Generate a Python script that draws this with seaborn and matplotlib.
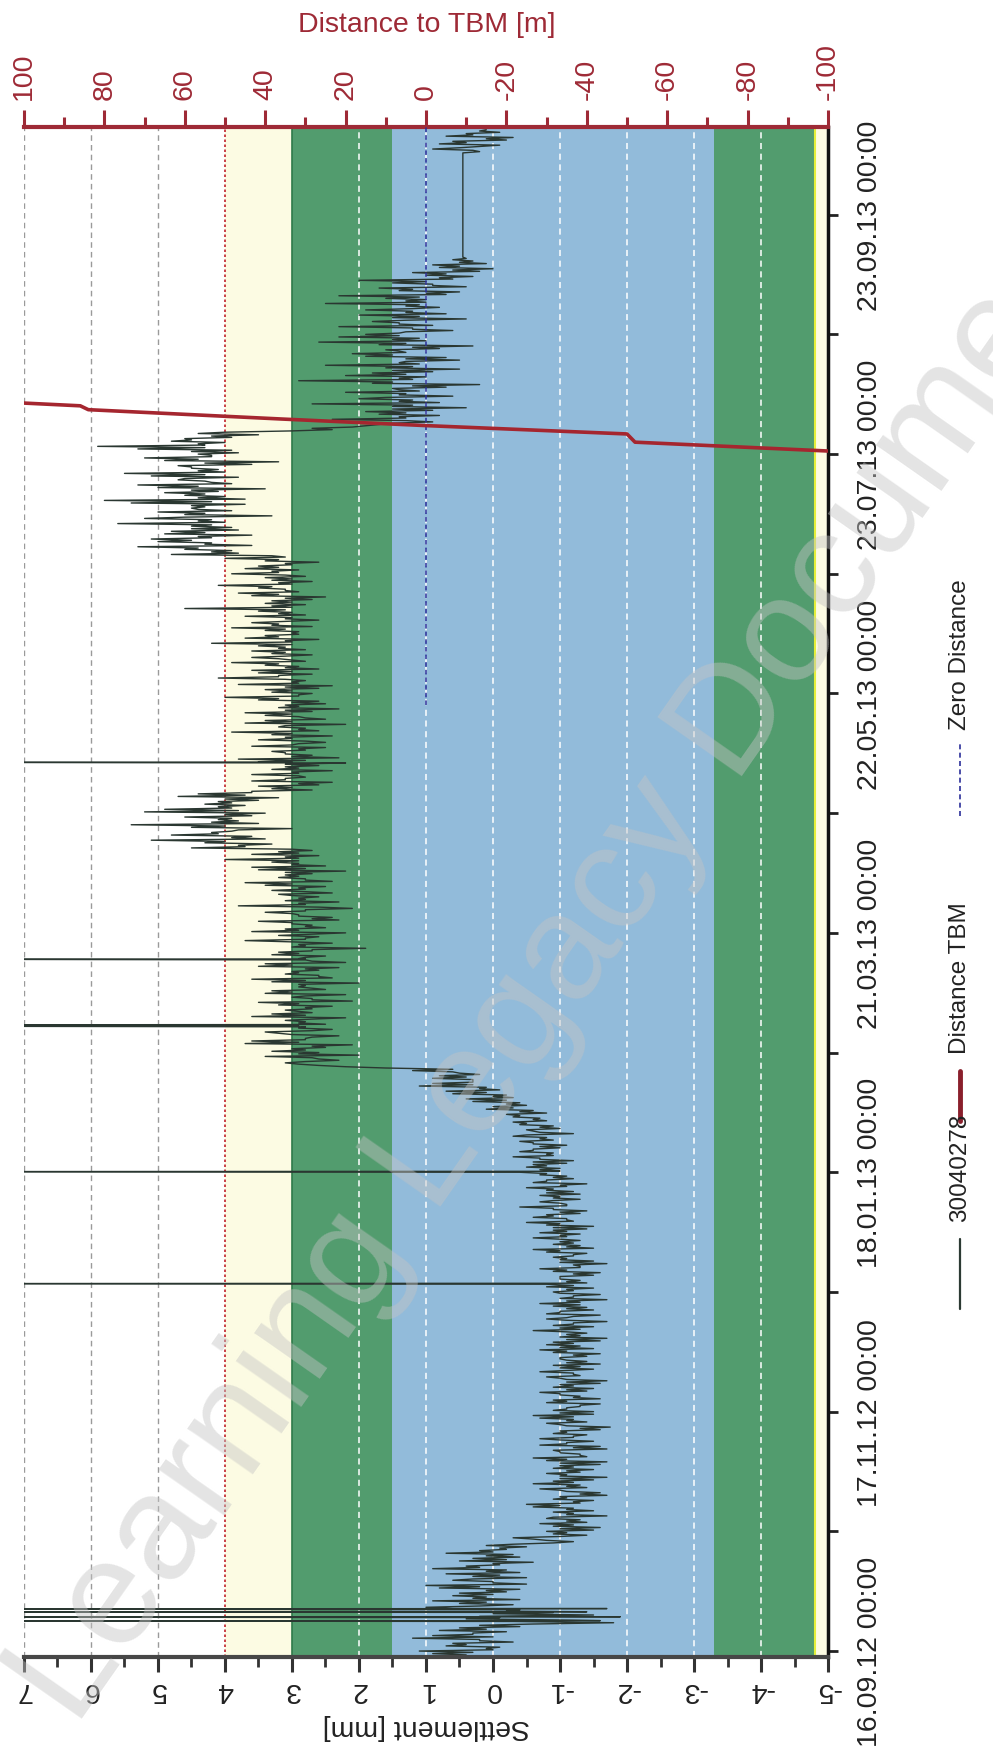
import numpy as np
import pandas as pd
import matplotlib
matplotlib.use("Agg")
import matplotlib.pyplot as plt
from matplotlib.lines import Line2D
import seaborn as sns

sns.set_theme(style="white")
plt.rcParams["font.family"] = ["Liberation Sans", "DejaVu Sans"]

# ---------------- data: sensor 30040278, readings at 00:00, 08:00 and 16:00 ----------------
month_starts = ["2012-09-15", "2012-10-01", "2012-11-01", "2012-12-01", "2013-01-01",
                "2013-02-01", "2013-03-01", "2013-04-01", "2013-05-01", "2013-06-01",
                "2013-07-01", "2013-08-01", "2013-09-01", "2013-10-09"]
# 00:00 readings [mm]
am_2012_09 = [0.4, 1.1, -0.1, 0.6, 0.2, 0.9, -0.2, 0.5, -0.6, -1.2, 0.2, -0.9, 0.6, -0.3, 0.9, 0.1]
am_2012_10 = [0.5, -0.4, 1.0, 0.0, -0.5, 0.7, -0.2, 0.4, -0.6, 0.3, -0.3, 0.2, -0.5, -0.9, -0.6, -1.4,
              -0.8, -1.6, -0.7, -1.3, -1.7, -0.9, -1.2, -0.5, -1.5, -1.0, -1.6, -0.7, -1.3, -0.9, -1.7]
am_2012_11 = [-0.8, -1.5, -1.0, -1.7, -0.6, -1.3, -0.9, -1.6, -1.1, -0.7, -1.4, -1.0, -1.75, -0.8, -1.2,
              -0.6, -1.5, -1.1, -1.6, -0.9, -1.3, -0.7, -1.5, -1.0, -1.7, -0.8, -1.2, -1.5, -0.9, -1.4]
am_2012_12 = [-1.0, -1.6, -0.7, -1.3, -0.9, -1.7, -1.1, -0.6, -1.5, -1.2, -0.8, -1.6, -1.0, -1.4, -0.7,
              -1.7, -1.2, -0.9, -1.5, -0.8, -1.3, -1.0, -1.6, -0.7, -1.2, -1.5, -0.9, -1.4, -0.6, -1.3, -1.0]
am_2013_01 = [-0.6, -1.3, -0.9, -1.5, -0.5, -1.1, -0.8, -1.4, -0.4, -1.0, -1.3, -0.7, -1.2, -0.5, -1.4,
              -0.8, -1.1, -0.4, -1.0, -0.6, -1.2, -0.3, -0.9, -0.6, -1.1, -0.4, -0.8, -1.2, -0.5, -0.9, -0.3]
am_2013_02 = [-0.7, -0.2, -0.6, 0.0, -0.4, 0.4, -0.2, 0.7, 0.1, 0.9, 0.3, 0.8, 0.6, 1.6, 2.9, 2.3,
              3.4, 2.6, 3.0, 2.1, 3.6, 2.7, 3.2, 2.4, 3.8, 2.8, 2.2, 3.3]
am_2013_03 = [3.1, 2.4, 3.5, 2.7, 2.2, 3.3, 2.9, 2.0, 3.6, 2.6, 3.0, 2.3, 3.4, 2.8, 2.5, 3.2,
              1.9, 2.9, 3.7, 2.6, 2.2, 3.1, 2.7, 3.5, 2.4, 3.0, 2.8, 3.8, 2.3, 2.9, 3.2]
am_2013_04 = [3.3, 2.5, 3.7, 2.8, 3.1, 2.2, 3.6, 2.9, 4.0, 2.6, 3.2, 4.5, 3.3, 5.1, 3.6,
              4.2, 3.0, 5.4, 3.8, 4.6, 3.4, 4.9, 3.7, 4.1, 3.2, 4.4, 2.7, 3.5, 2.4, 3.1]
am_2013_05 = [3.6, 2.4, 3.1, 2.2, 3.8, 2.7, 3.3, 2.5, 2.9, 3.5, 2.4, 3.9, 2.8, 2.2, 3.4, 2.9,
              3.7, 2.3, 3.1, 2.6, 4.0, 2.7, 3.4, 2.4, 3.0, 4.1, 2.7, 3.6, 2.9, 3.9, 3.2]
am_2013_06 = [2.7, 3.6, 3.1, 4.2, 2.6, 3.4, 2.9, 3.9, 3.2, 2.6, 3.7, 3.0, 4.6, 2.8, 3.3,
              2.5, 3.8, 3.1, 4.1, 2.7, 3.4, 3.9, 2.9, 3.5, 2.6, 4.0, 4.8, 3.9, 5.3, 4.2]
am_2013_07 = [5.1, 3.6, 4.8, 3.9, 5.6, 4.2, 3.3, 5.0, 4.5, 3.7, 5.8, 4.0, 4.9, 3.4, 5.3, 4.3,
              3.8, 5.5, 4.1, 4.7, 3.2, 5.2, 4.4, 3.9, 5.9, 4.0, 4.6, 3.5, 3.0, 2.1, 1.5]
am_2013_08 = [2.4, 0.8, 1.9, 0.4, 2.7, 1.2, 0.6, 2.2, 1.5, 0.2, 2.9, 1.0, 1.8, 0.5, 2.5, 1.3,
              0.7, 2.1, 1.6, 0.3, 2.6, 1.1, 1.9, 0.6, 2.3, 1.4, 0.4, 2.0, 1.2, 0.8, 2.5]
am_2013_09 = [1.0, 2.3, 0.5, 1.7, 0.9, 2.0, 0.3, 1.2, 0.0, 0.9, 0.3, 0.45]
am_2013_10 = [0.45, 0.9, -0.1, 0.6, -0.3, 0.4, 0.1]
# 08:00 readings [mm]
pm_2012_09 = [0.9, 0.0, 0.7, -0.3, 1.2, 0.3, 0.8, -0.4, -1.8, 0.4, -1.5, -0.2, 1.0, 0.5, -0.4, 0.6]
pm_2012_10 = [-0.2, 0.8, -0.5, 0.6, 0.3, -0.4, 0.9, -0.1, 0.5, -0.4, 0.7, -0.2, 0.1, -1.2, -0.3, -0.9,
              -1.5, -0.9, -1.4, -0.8, -1.1, -1.5, -0.6, -1.3, -0.9, -1.7, -1.1, -1.4, -0.6, -1.5, -1.0]
pm_2012_11 = [-1.3, -0.9, -1.6, -0.8, -1.4, -1.0, -1.7, -0.7, -1.5, -1.2, -0.9, -1.6, -1.1, -1.4, -0.7,
              -1.5, -0.9, -1.3, -0.8, -1.6, -1.0, -1.4, -0.9, -1.6, -1.1, -1.3, -0.7, -1.0, -1.6, -1.1]
pm_2012_12 = [-1.4, -0.9, -1.5, -0.8, -1.6, -1.0, -1.4, -1.3, -0.9, -1.7, -1.1, -0.8, -1.5, -0.9, -1.3,
              -1.0, -1.6, -1.2, -0.8, -1.4, -1.0, -1.5, -0.9, -1.3, -1.7, -1.0, -1.2, -0.8, -1.5, -0.9, -1.3]
pm_2013_01 = [-1.1, -0.7, -1.4, -0.8, -1.2, -0.6, -1.3, -0.9, -1.1, -0.7, -0.9, -1.3, -0.8, -1.1, -0.6,
              -1.2, -0.7, -1.0, -0.5, -1.1, -0.7, -0.9, -0.4, -1.0, -0.6, -0.9, -0.3, -0.7, -1.0, -0.4, -0.8]
pm_2013_02 = [-0.3, -0.8, 0.1, -0.5, 0.3, -0.3, 0.6, -0.1, 1.1, 0.3, 0.9, 0.2, 1.2, 2.2, 3.1, 2.6,
              2.0, 3.3, 2.5, 3.7, 2.8, 2.3, 3.4, 2.9, 2.5, 3.1, 3.6, 2.7]
pm_2013_03 = [2.7, 3.2, 2.1, 3.0, 3.4, 2.5, 2.8, 3.3, 2.4, 3.1, 2.6, 3.5, 2.2, 2.9, 3.3, 2.7,
              3.0, 2.4, 2.8, 3.2, 3.6, 2.5, 3.0, 2.3, 2.9, 3.4, 2.1, 2.8, 3.1, 2.6, 2.4]
pm_2013_04 = [2.8, 3.4, 2.4, 3.2, 2.7, 3.5, 2.5, 3.3, 2.9, 3.6, 2.7, 3.7, 4.3, 3.4, 4.8,
              3.9, 4.5, 3.5, 4.1, 3.6, 5.2, 3.9, 4.3, 3.5, 4.7, 3.6, 3.3, 2.6, 3.6, 2.8]
pm_2013_05 = [2.9, 3.3, 2.6, 3.5, 2.3, 3.1, 2.8, 3.6, 2.5, 3.0, 3.3, 2.6, 3.2, 3.7, 2.5, 3.4,
              2.7, 3.2, 2.5, 3.5, 2.9, 3.3, 2.6, 3.8, 2.8, 3.2, 3.5, 2.6, 3.4, 2.8, 3.6]
pm_2013_06 = [3.3, 2.8, 3.5, 3.0, 3.7, 2.9, 3.4, 2.7, 3.6, 3.1, 2.8, 3.5, 3.0, 3.4, 2.7,
              3.6, 2.9, 3.5, 3.0, 3.3, 2.8, 3.2, 3.7, 3.0, 3.4, 3.1, 3.8, 4.6, 3.6, 5.0]
pm_2013_07 = [4.2, 4.9, 3.8, 4.5, 4.0, 5.2, 4.6, 3.9, 4.3, 5.4, 3.7, 4.6, 4.1, 5.0, 3.9, 4.7,
              5.1, 4.0, 4.5, 3.6, 4.9, 4.2, 3.8, 5.3, 4.3, 4.8, 3.9, 4.4, 2.4, 1.9, 0.9]
pm_2013_08 = [1.3, 1.7, 0.9, 1.5, 0.8, 2.0, 1.4, 1.1, 0.7, 1.8, 1.2, 2.2, 0.9, 1.6, 1.1, 0.5,
              1.9, 1.3, 0.8, 1.7, 1.0, 2.3, 1.4, 1.2, 0.9, 1.8, 1.5, 0.7, 1.9, 1.3, 1.0]
pm_2013_09 = [1.6, 0.7, 1.4, 0.4, 1.5, 0.6, 1.0, 0.2, 0.8, 0.1, 0.6]
pm_2013_10 = [0.2, 0.5, 0.8, -0.2, 0.7, -0.1]
# 16:00 readings [mm]
ev_2012_09 = [0.3, 0.1, 0.4, 0.2, 0.0, 0.3, 0.1, 0.2, -0.3, -0.1, 0.0, -0.4, 0.2, 0.1, 0.3, 0.0]
ev_2012_10 = [0.1, 0.2, 0.0, 0.3, -0.1, 0.1, 0.2, 0.0, -0.2, 0.1, 0.0, -0.1, -0.3, -0.8, -1.0, -1.1,
              -1.0, -1.2, -1.1, -0.9, -1.2, -1.1, -1.0, -1.2, -1.1, -1.3, -1.0, -1.1, -1.2, -1.0, -1.1]
ev_2012_11 = [-1.1, -1.2, -1.0, -1.1, -1.3, -1.0, -1.2, -1.1, -1.0, -1.2, -1.1, -1.3, -1.0, -1.1, -1.2,
              -1.0, -1.1, -1.3, -1.1, -1.2, -1.0, -1.1, -1.2, -1.1, -1.0, -1.2, -1.1, -1.3, -1.1, -1.0]
ev_2012_12 = [-1.2, -1.1, -1.0, -1.2, -1.1, -1.3, -1.1, -1.0, -1.2, -1.1, -1.2, -1.0, -1.1, -1.3, -1.1,
              -1.2, -1.0, -1.1, -1.2, -1.1, -1.0, -1.2, -1.1, -1.3, -1.0, -1.1, -1.2, -1.0, -1.1, -1.2, -1.0]
ev_2013_01 = [-1.0, -1.1, -0.9, -1.0, -1.1, -0.9, -1.0, -0.9, -1.1, -0.9, -1.0, -0.8, -0.9, -1.0, -0.8,
              -0.9, -0.8, -0.7, -0.8, -0.6, -0.7, -0.8, -0.6, -0.7, -0.6, -0.7, -0.5, -0.6, -0.7, -0.5, -0.6]
ev_2013_02 = [-0.4, -0.4, -0.3, -0.2, -0.2, 0.0, 0.1, 0.2, 0.3, 0.3, 0.4, 0.5, 0.6, 2.6, 2.8, 2.7,
              2.9, 2.8, 2.7, 2.9, 2.8, 3.0, 2.7, 2.8, 2.9, 2.7, 2.8, 2.9]
ev_2013_03 = [2.8, 2.9, 2.7, 2.8, 3.0, 2.7, 2.9, 2.8, 2.6, 2.9, 2.8, 3.0, 2.7, 2.8, 2.9, 2.7,
              2.8, 3.0, 2.8, 2.7, 2.9, 2.8, 3.0, 2.7, 2.9, 2.8, 2.6, 2.9, 2.8, 3.0, 2.8]
ev_2013_04 = [2.9, 3.0, 2.8, 2.9, 3.1, 2.8, 3.0, 2.9, 3.1, 2.9, 3.0, 3.8, 4.0, 3.9, 4.1,
              3.8, 4.0, 4.2, 3.9, 4.0, 3.8, 4.1, 3.9, 4.0, 3.7, 3.6, 3.0, 2.9, 3.1, 2.9]
ev_2013_05 = [3.0, 2.9, 3.1, 2.8, 3.0, 3.1, 2.9, 3.0, 2.8, 3.1, 3.0, 2.9, 3.1, 3.0, 2.8, 3.0,
              3.1, 2.9, 3.0, 3.2, 2.9, 3.0, 3.1, 2.9, 3.1, 3.2, 3.0, 3.1, 3.2, 3.0, 3.1]
ev_2013_06 = [3.1, 3.2, 3.0, 3.1, 3.2, 3.0, 3.1, 3.3, 3.1, 3.0, 3.2, 3.1, 3.3, 3.0, 3.1,
              3.2, 3.1, 3.3, 3.2, 3.0, 3.1, 3.3, 3.2, 3.1, 3.2, 3.3, 4.2, 4.4, 4.3, 4.5]
ev_2013_07 = [4.4, 4.3, 4.5, 4.2, 4.4, 4.6, 4.3, 4.4, 4.5, 4.2, 4.4, 4.3, 4.5, 4.4, 4.2, 4.6,
              4.3, 4.4, 4.5, 4.3, 4.4, 4.2, 4.5, 4.3, 4.4, 4.5, 4.2, 4.0, 2.7, 1.7, 1.3]
ev_2013_08 = [1.4, 1.3, 1.5, 1.2, 1.4, 1.6, 1.3, 1.4, 1.2, 1.5, 1.4, 1.3, 1.5, 1.2, 1.4, 1.3,
              1.5, 1.4, 1.2, 1.3, 1.5, 1.4, 1.3, 1.2, 1.4, 1.3, 1.1, 1.3, 1.2, 1.1, 1.3]
ev_2013_09 = [1.1, 1.0, 1.2, 0.9, 1.0, 0.8, 0.7, 0.6, 0.5, 0.5, 0.4]
ev_2013_10 = [0.3, 0.2, 0.4, 0.1, 0.3, 0.2]

# outlier spikes (reading far above the axis, then back)
spike_times = ["2012-09-23 19:00", "2012-09-24 19:00", "2012-09-26 02:00", "2012-09-26 22:00",
               "2012-12-20 04:00", "2013-01-18 04:00", "2013-02-24 20:00", "2013-02-25 04:00",
               "2013-03-14 04:00", "2013-05-04 04:00"]
spike_peak = [9.0, 9.0, 9.0, 9.0, 9.0, 9.0, 9.0, 9.0, 9.0, 9.0]
spike_return = [-1.6, -1.9, -1.4, -1.7, -1.0, -0.8, 2.9, 3.1, 2.8, 3.0]

# distance of the TBM [m]
tbm_times = ["2013-07-21 00:00", "2013-07-23 19:00", "2013-07-26 02:00", "2013-07-28 05:00",
             "2013-07-30 09:00", "2013-08-01 02:00", "2013-08-03 12:00", "2013-08-04 12:00",
             "2013-08-05 05:00", "2013-08-07 00:00"]
tbm_dist = [-140, -100, -52, -50, 0, 36, 84, 86, 100, 135]
zero_times = ["2013-05-19 00:00", "2013-10-15 23:00"]
zero_dist = [0, 0]

# ---------------- assemble ----------------
am = [am_2012_09, am_2012_10, am_2012_11, am_2012_12, am_2013_01, am_2013_02, am_2013_03,
      am_2013_04, am_2013_05, am_2013_06, am_2013_07, am_2013_08, am_2013_09, am_2013_10]
pm = [pm_2012_09, pm_2012_10, pm_2012_11, pm_2012_12, pm_2013_01, pm_2013_02, pm_2013_03,
      pm_2013_04, pm_2013_05, pm_2013_06, pm_2013_07, pm_2013_08, pm_2013_09, pm_2013_10]
ev = [ev_2012_09, ev_2012_10, ev_2012_11, ev_2012_12, ev_2013_01, ev_2013_02, ev_2013_03,
      ev_2013_04, ev_2013_05, ev_2013_06, ev_2013_07, ev_2013_08, ev_2013_09, ev_2013_10]
parts = []
for start, a, p, e in zip(month_starts, am, pm, ev):
    s = pd.Timestamp(start)
    for hrs, vals in ((0, a), (8, p), (16, e)):
        parts.append(pd.DataFrame({"t": pd.date_range(s + pd.Timedelta(hours=hrs), periods=len(vals),
                                                      freq="D"), "v": vals}))
st = pd.to_datetime(spike_times, format="%Y-%m-%d %H:%M")
parts.append(pd.DataFrame({"t": st, "v": spike_peak}))
parts.append(pd.DataFrame({"t": st + pd.Timedelta(hours=2), "v": spike_return}))
df = pd.concat(parts).sort_values("t").reset_index(drop=True)

tbm = pd.DataFrame({"t": pd.to_datetime(tbm_times, format="%Y-%m-%d %H:%M"), "d": tbm_dist})
zero = pd.DataFrame({"t": pd.to_datetime(zero_times, format="%Y-%m-%d %H:%M"), "d": zero_dist})

# ---------------- figure ----------------
W, H = 993, 1756
fig = plt.figure(figsize=(W / 100, H / 100), dpi=100)
x0, x1, y0, y1 = 24, 828, 128, 1658
ax = fig.add_axes([x0 / W, 1 - y1 / H, (x1 - x0) / W, (y1 - y0) / H])
ax.set_facecolor("white")

RED = "#9e2a36"
GREEN = "#529c6e"
BLUE = "#92bbda"
YELLOW = "#fcfbe3"

# bands
ax.axvspan(4, 3, color=YELLOW, lw=0, zorder=0)
ax.axvspan(3, 1.5, color=GREEN, lw=0, zorder=0)
ax.axvspan(1.5, -3.3, color=BLUE, lw=0, zorder=0)
ax.axvspan(-3.3, -4.8, color=GREEN, lw=0, zorder=0)
ax.axvspan(-4.8, -5, color=YELLOW, lw=0, zorder=0)
ax.axvline(3, color="#2f7a4a", lw=1.2, zorder=0.6)
ax.axvline(-4.8, color="#e4ee3a", lw=1.5, zorder=0.6)

for g in [7, 6, 5]:
    ax.axvline(g, color="#9a9a9a", lw=1, ls=(0, (4, 3)), zorder=0.5)
for g in [2, 1, 0, -1, -2, -3, -4]:
    ax.axvline(g, color="white", lw=1.1, ls=(0, (4, 3)), zorder=0.5)
ax.axvline(4, color="#c0202a", lw=1.2, ls=(0, (1.5, 1.5)), zorder=0.5)

sns.lineplot(data=df, x="v", y="t", ax=ax, sort=False, estimator=None,
             color="#2a3731", lw=1.0, zorder=2)

ax.set_xlim(7, -5)
ax.set_ylim(pd.Timestamp("2012-09-14 11:00"), pd.Timestamp("2013-10-15 17:00"))

# right (time) axis
ax.yaxis.tick_right()
ticks = pd.date_range("2012-09-16", periods=13, freq="31D")
ax.set_yticks(ticks)
ax.set_yticklabels([t.strftime("%d.%m.%y %H:%M") if i % 2 == 0 else "" for i, t in enumerate(ticks)])
ax.tick_params(axis="y", which="major", right=True, left=False, direction="out", length=7,
               width=2, color="#222222", pad=14, labelsize=20.5, labelcolor="#222222")
for lb in ax.get_yticklabels():
    lb.set_rotation(90)
    lb.set_va("center")
    lb.set_ha("left")
ax.set_ylabel("")

# bottom (settlement) axis
xt = list(range(7, -6, -1))
ax.set_xticks(xt)
ax.set_xticklabels([str(v) for v in xt])
ax.set_xticks(np.arange(6.5, -5, -1), minor=True)
ax.tick_params(axis="x", which="major", bottom=True, direction="out", length=11, width=2.2,
               color="#333333", pad=3, labelsize=20.5, labelcolor="#222222")
ax.tick_params(axis="x", which="minor", bottom=True, direction="out", length=7, width=2,
               color="#333333")
for lb in ax.get_xticklabels():
    lb.set_rotation(180)
    lb.set_va("top")
    lb.set_ha("center")
ax.set_xlabel("")
fig.text(426 / W, 1 - 1727 / H, "Settlement [mm]", fontsize=20.5, color="#222222", rotation=180,
         ha="center", va="center")

for s in ["left", "top"]:
    ax.spines[s].set_visible(False)
ax.spines["bottom"].set_color("#474747")
ax.spines["bottom"].set_linewidth(3)
ax.spines["right"].set_color("#111111")
ax.spines["right"].set_linewidth(2.5)

# top (distance) axis
ax2 = ax.twiny()
sns.lineplot(data=zero, x="d", y="t", ax=ax2, sort=False, estimator=None,
             color="#2b2f9a", lw=1.1, ls=(0, (3, 2)), zorder=3)
sns.lineplot(data=tbm, x="d", y="t", ax=ax2, sort=False, estimator=None,
             color="#a5262f", lw=2.6, zorder=4)
ax2.set_xlim(100, -100)
ax2.set_ylim(ax.get_ylim())
ax2.set_xticks(range(100, -101, -20))
ax2.set_xticklabels([str(v) for v in range(100, -101, -20)])
ax2.set_xticks(range(90, -100, -20), minor=True)
ax2.tick_params(axis="x", which="major", top=True, direction="out", length=12, width=2.2,
                color=RED, pad=8, labelsize=20.5, labelcolor=RED)
ax2.tick_params(axis="x", which="minor", top=True, direction="out", length=7, width=2.2, color=RED)
for lb in ax2.get_xticklabels():
    lb.set_rotation(90)
    lb.set_va("bottom")
    lb.set_ha("center")
ax2.set_xlabel("")
ax2.set_ylabel("")
ax2.yaxis.set_visible(False)
for s in ["left", "right", "bottom"]:
    ax2.spines[s].set_visible(False)
ax2.spines["top"].set_color(RED)
ax2.spines["top"].set_linewidth(3)
fig.text(427 / W, 1 - 25 / H, "Distance to TBM [m]", color=RED, fontsize=20.5,
         ha="center", va="center")

# legend (rotated, drawn by hand)
def fy(p):
    return 1 - p / H
lx = 960 / W
fig.add_artist(Line2D([lx, lx], [fy(1310), fy(1240)], color="#2c3a33", lw=1.6))
fig.text(lx, fy(1222), "30040278", rotation=90, rotation_mode="anchor", ha="left", va="center",
         fontsize=17.5, color="#222222")
fig.add_artist(Line2D([lx, lx], [fy(1122), fy(1072)], color="#8a1f2c", lw=3.5))
fig.text(lx, fy(1054), "Distance TBM", rotation=90, rotation_mode="anchor", ha="left", va="center",
         fontsize=17.5, color="#222222")
fig.add_artist(Line2D([lx, lx], [fy(817), fy(745)], color="#2b2f9a", lw=1.2, ls=(0, (3, 2))))
fig.text(lx, fy(730), "Zero Distance", rotation=90, rotation_mode="anchor", ha="left", va="center",
         fontsize=17.5, color="#222222")

# watermark
fig.text(570 / W, 1 - 955 / H, "Learning Legacy Document", rotation=55, rotation_mode="anchor",
         ha="center", va="center", fontsize=108, color="#c4c4c4", alpha=0.45, zorder=10)

fig.savefig("out.png", dpi=100)
